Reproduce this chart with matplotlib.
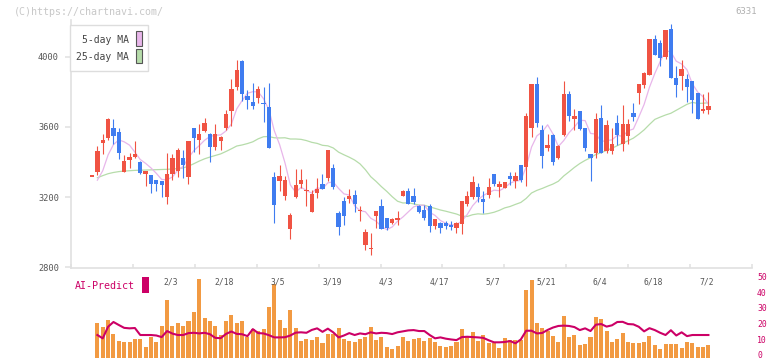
import matplotlib
matplotlib.use("Agg")
import matplotlib.pyplot as plt
import matplotlib.transforms as mtransforms
from matplotlib.patches import Rectangle
import numpy as np

##### Data #####
opens = [3317, 3343, 3509, 3537, 3591, 3571, 3343, 3410, 3427, 3399,
         3330, 3325, 3296, 3290, 3201, 3330, 3349, 3425, 3315, 3596,
         3524, 3577, 3558, 3486, 3520, 3591, 3691, 3828, 3974, 3775,
         3742, 3765, 3737, 3714, 3315, 3292, 3207, 3015, 3201, 3273,
         3233, 3115, 3224, 3277, 3311, 3368, 3110, 3176, 3188, 3211,
         3119, 2926, 2901, 3091, 3148, 3078, 3049, 3068, 3207, 3233,
         3205, 3148, 3125, 3148, 3036, 3053, 3049, 3040, 3026, 3044,
         3158, 3201, 3258, 3188, 3211, 3330, 3258, 3254, 3319, 3292,
         3382, 3372, 3594, 3843, 3585, 3482, 3553, 3423, 3553, 3790,
         3644, 3689, 3594, 3448, 3452, 3653, 3463, 3463, 3620, 3500,
         3549, 3682, 3794, 3841, 3899, 4104, 4081, 3998, 4161, 3881,
         3891, 3876, 3860, 3796, 3689, 3695]
highs = [3317, 3490, 3557, 3650, 3644, 3591, 3439, 3454, 3518, 3404,
         3350, 3325, 3296, 3290, 3452, 3448, 3477, 3467, 3518, 3596,
         3619, 3648, 3568, 3615, 3550, 3699, 3872, 3980, 3980, 3813,
         3853, 3832, 3828, 3853, 3340, 3382, 3319, 3106, 3359, 3359,
         3302, 3239, 3306, 3334, 3467, 3387, 3121, 3201, 3243, 3239,
         3150, 3017, 2996, 3119, 3186, 3078, 3080, 3119, 3240, 3249,
         3252, 3154, 3154, 3158, 3072, 3058, 3062, 3062, 3058, 3180,
         3233, 3319, 3281, 3233, 3309, 3330, 3292, 3283, 3343, 3343,
         3382, 3680, 3847, 3885, 3610, 3558, 3558, 3496, 3862, 3803,
         3705, 3689, 3594, 3448, 3682, 3724, 3638, 3591, 3667, 3724,
         3644, 3739, 3843, 3913, 4104, 4123, 4094, 4151, 4185, 3946,
         3980, 3900, 3860, 3796, 3786, 3800]
lows = [3317, 3325, 3448, 3524, 3505, 3416, 3343, 3363, 3423, 3334,
        3264, 3224, 3235, 3201, 3159, 3296, 3315, 3309, 3277, 3457,
        3448, 3571, 3397, 3471, 3471, 3585, 3604, 3813, 3746, 3705,
        3701, 3737, 3628, 3480, 3049, 3235, 3182, 2960, 3197, 3249,
        3150, 3115, 3197, 3243, 3292, 3245, 2983, 3040, 3167, 3115,
        3064, 2897, 2868, 3021, 3015, 3011, 3045, 3040, 3205, 3163,
        3163, 3110, 3068, 2998, 3015, 2996, 3015, 3011, 2992, 2987,
        3150, 3188, 3172, 3110, 3195, 3262, 3201, 3250, 3268, 3249,
        3287, 3262, 3543, 3600, 3363, 3463, 3382, 3416, 3547, 3632,
        3585, 3585, 3463, 3292, 3423, 3452, 3452, 3443, 3496, 3463,
        3505, 3634, 3728, 3822, 3895, 4009, 3946, 3990, 3879, 3771,
        3813, 3742, 3680, 3644, 3680, 3672]
closes = [3317, 3461, 3524, 3644, 3549, 3454, 3404, 3429, 3444, 3338,
          3347, 3273, 3273, 3269, 3334, 3420, 3467, 3382, 3518, 3537,
          3562, 3623, 3486, 3557, 3541, 3676, 3819, 3923, 3790, 3752,
          3720, 3815, 3728, 3480, 3154, 3319, 3296, 3097, 3268, 3296,
          3233, 3216, 3245, 3243, 3467, 3258, 3030, 3093, 3205, 3163,
          3119, 2998, 2910, 3119, 3015, 3026, 3074, 3078, 3235, 3163,
          3172, 3115, 3081, 3036, 3072, 3026, 3036, 3030, 3049, 3176,
          3207, 3287, 3201, 3172, 3258, 3277, 3273, 3283, 3302, 3319,
          3296, 3661, 3847, 3623, 3435, 3496, 3397, 3490, 3790, 3663,
          3661, 3587, 3480, 3423, 3644, 3452, 3610, 3501, 3553, 3614,
          3614, 3657, 3843, 3910, 4104, 4013, 3995, 4151, 3879, 3838,
          3933, 3828, 3752, 3644, 3701, 3718]

ma5 = [np.nan, 3296, 3350, 3440, 3499, 3526, 3515, 3496, 3456, 3414,
       3392, 3366, 3335, 3300, 3299, 3314, 3353, 3374, 3424, 3465,
       3493, 3524, 3545, 3553, 3554, 3577, 3616, 3703, 3750, 3792,
       3801, 3800, 3761, 3699, 3579, 3499, 3395, 3269, 3227, 3255,
       3238, 3222, 3252, 3247, 3281, 3286, 3249, 3218, 3211, 3150,
       3122, 3116, 3079, 3062, 3032, 3014, 3029, 3062, 3086, 3115,
       3144, 3153, 3153, 3113, 3095, 3066, 3050, 3040, 3043, 3063,
       3100, 3150, 3184, 3209, 3225, 3239, 3236, 3253, 3279, 3291,
       3295, 3372, 3485, 3549, 3572, 3612, 3560, 3488, 3522, 3567,
       3600, 3638, 3636, 3563, 3559, 3517, 3522, 3526, 3552, 3546,
       3578, 3588, 3656, 3728, 3826, 3905, 3973, 4035, 4028, 3975,
       3959, 3926, 3846, 3799, 3772, 3729]
ma25 = [np.nan, 3310, 3322, 3333, 3340, 3345, 3348, 3350, 3352, 3353,
        3354, 3355, 3356, 3357, 3358, 3360, 3362, 3366, 3376, 3390,
        3405, 3418, 3428, 3437, 3446, 3460, 3475, 3491, 3497, 3505,
        3515, 3532, 3544, 3545, 3538, 3537, 3538, 3531, 3531, 3529,
        3522, 3512, 3506, 3495, 3492, 3480, 3456, 3441, 3427, 3411,
        3389, 3356, 3316, 3289, 3259, 3232, 3202, 3176, 3166, 3167,
        3161, 3154, 3153, 3144, 3135, 3126, 3119, 3111, 3103, 3091,
        3089, 3099, 3104, 3102, 3106, 3113, 3124, 3138, 3146, 3158,
        3169, 3192, 3223, 3238, 3249, 3262, 3274, 3290, 3320, 3344,
        3369, 3391, 3409, 3424, 3443, 3453, 3466, 3478, 3493, 3507,
        3521, 3536, 3558, 3583, 3614, 3643, 3656, 3668, 3678, 3695,
        3712, 3729, 3740, 3734, 3735, 3738]

volume = [np.nan, 21.6, 19.5, 23.7, 15.1, 10.7, 10.1, 10.1, 11.8, 11.8,
          6.9, 13.2, 10.1, 20.1, 36.3, 20.1, 21.6, 20.1, 23.1, 28.7,
          49.5, 25.2, 23.1, 20.1, 14.1, 23.1, 26.9, 22.0, 23.1, 13.2,
          18.1, 17.0, 17.9, 31.9, 46.4, 23.7, 18.7, 30.0, 18.4, 10.7,
          11.8, 11.3, 13.2, 9.2, 15.1, 15.1, 18.4, 11.8, 10.7, 10.1,
          11.8, 13.2, 19.5, 11.1, 13.2, 6.5, 5.5, 7.4, 12.8, 10.7,
          11.5, 12.2, 10.3, 12.6, 9.7, 7.4, 6.5, 7.4, 10.1, 17.9,
          12.8, 16.2, 10.5, 14.1, 9.1, 9.1, 6.1, 12.4, 10.9, 11.1,
          11.1, 42.6, 48.9, 22.0, 18.5, 16.8, 13.6, 9.9, 26.2, 13.0,
          14.3, 8.0, 8.6, 13.0, 25.6, 24.3, 17.0, 9.9, 11.8, 15.5,
          9.9, 9.2, 9.2, 10.1, 13.6, 8.0, 5.5, 8.6, 8.6, 8.6,
          6.1, 9.9, 9.2, 6.7, 6.7, 8.0]
ai_predict = [np.nan, 14.3, 12.2, 19.5, 22.5, 20.6, 18.8, 18.5, 18.7, 14.3,
              14.3, 14.3, 14.0, 13.0, 16.8, 15.2, 14.3, 14.3, 15.5, 15.7,
              15.3, 15.7, 14.8, 12.5, 12.3, 15.0, 16.5, 15.0, 14.8, 13.6,
              18.0, 15.5, 15.3, 14.2, 12.8, 12.8, 12.9, 14.0, 15.8, 16.0,
              15.7, 17.5, 18.5, 16.3, 18.3, 16.0, 12.8, 14.0, 15.5, 14.3,
              15.3, 14.8, 16.0, 15.3, 15.7, 15.5, 14.9, 16.0, 16.6, 17.2,
              17.4, 16.8, 16.8, 14.3, 12.2, 12.8, 12.0, 11.5, 11.1, 13.0,
              13.2, 13.0, 12.8, 12.5, 11.0, 9.7, 9.7, 9.9, 10.5, 9.1,
              11.5, 17.0, 17.0, 15.3, 15.6, 17.5, 19.0, 20.0, 20.2, 20.0,
              19.3, 17.4, 18.5, 16.8, 20.8, 21.2, 19.6, 20.4, 22.5, 22.6,
              21.2, 21.0, 19.5, 16.6, 18.6, 17.4, 15.7, 14.3, 17.3, 14.0,
              16.0, 13.6, 14.3, 14.3, 14.3, 14.3]

# date labels sit on every 10th candle starting at index 15
date_labels = ["2/3", "2/18", "3/5", "3/19", "4/3", "4/17",
               "5/7", "5/21", "6/4", "6/18", "7/2"]
date_index = list(range(15, 116, 10))

price_ticks = [2800, 3200, 3600, 4000]
ai_ticks = [0, 10, 20, 30, 40, 50]

##### Style #####
red = "#f05343"
blue = "#3f7cf0"
pink = "#e8b6ea"
green = "#b6dcaa"
orange = "#f29a42"
magenta = "#cc0066"
grid_grey = "#e0e0e0"
mono = "DejaVu Sans Mono"

o = np.array(opens, dtype=float)
h = np.array(highs, dtype=float)
l = np.array(lows, dtype=float)
c = np.array(closes, dtype=float)
idx = np.arange(len(o))

fig = plt.figure(figsize=(7.72, 3.61), dpi=100)
W, H = 772.0, 361.0

##### Candlestick panel #####
ax = fig.add_axes([71 / W, 1 - 268 / H, 681 / W, 248 / H])
xlim = (-3.92, 123.13)
ax.set_xlim(*xlim)
ax.set_ylim(2795, 4210)

up = c >= o
colors = np.where(up, red, blue)
body_low = np.minimum(o, c)
body_h = np.maximum(np.abs(c - o), 6)
ax.vlines(idx, l, h, colors=colors, lw=0.8, zorder=3)
ax.bar(idx, body_h, bottom=body_low, width=0.8, color=colors, lw=0, zorder=4)

ax.plot(idx, ma25, color=green, lw=0.9, zorder=2)
ax.plot(idx, ma5, color=pink, lw=0.9, zorder=2)

for s in ["top", "right"]:
    ax.spines[s].set_visible(False)
for s in ["left", "bottom"]:
    ax.spines[s].set_color(grid_grey)
    ax.spines[s].set_linewidth(1.2)

ax.set_yticks(price_ticks)
ax.set_yticklabels([str(t) for t in price_ticks], family=mono, fontsize=6.2, color="#555555")
ax.tick_params(axis="y", direction="out", length=4.3, width=1.1, color=grid_grey, pad=4.3)
ax.set_xticks(np.linspace(xlim[0], xlim[1], 12))
ax.set_xticklabels([])
ax.tick_params(axis="x", direction="in", length=3, width=1.1, color=grid_grey)

##### Volume / AI-Predict panel #####
ax2 = fig.add_axes([71 / W, 1 - 359 / H, 681 / W, 80.7 / H])
ax2.set_xlim(*xlim)
ax2.set_ylim(-0.8, 50)
ax2.bar(idx, volume, width=0.75, color=orange, lw=0, zorder=2)
ax2.plot(idx, ai_predict, color=magenta, lw=1.5, zorder=3)
for s in ax2.spines.values():
    s.set_visible(False)
ax2.set_xticks([])
ax2.set_yticks([])

# right-hand scale for the AI-Predict line (the 0 label is nudged up to stay inside the canvas)
right_trans = mtransforms.blended_transform_factory(ax2.transAxes, ax2.transData)
for t in ai_ticks:
    ax2.annotate(str(t), xy=(1, t), xycoords=right_trans,
                 xytext=(3.6, 1.8 if t == 0 else 0.8), textcoords="offset points",
                 ha="left", va="center", family=mono, fontsize=5.9, color=magenta,
                 annotation_clip=False)

trans = mtransforms.blended_transform_factory(ax2.transData, ax2.transAxes)
for i, lab in zip(date_index, date_labels):
    ax2.text(i - 0.25, 0.954, lab, transform=trans, ha="center", va="center",
             family=mono, fontsize=5.8, color="#555555")

fig.text(75 / W, 1 - 286 / H, "AI-Predict", family=mono, fontsize=7.2,
         color=magenta, ha="left", va="center")
fig.patches.append(Rectangle((142 / W, 1 - 293 / H), 7 / W, 16 / H,
                             transform=fig.transFigure, facecolor=magenta, lw=0))

##### Legend box #####
fig.patches.append(Rectangle((70 / W, 1 - 71 / H), 78 / W, 46 / H, transform=fig.transFigure,
                             facecolor="white", edgecolor="#dddddd", lw=1.0, zorder=5))
fig.patches.append(Rectangle((136 / W, 1 - 46 / H), 6 / W, 15 / H, transform=fig.transFigure,
                             facecolor=pink, edgecolor="#555555", lw=0.8, zorder=6))
fig.patches.append(Rectangle((136 / W, 1 - 63 / H), 6 / W, 14 / H, transform=fig.transFigure,
                             facecolor=green, edgecolor="#555555", lw=0.8, zorder=6))
fig.text(129 / W, 1 - 40 / H, "5-day MA", family=mono, fontsize=7, color="#444444",
         ha="right", va="center", zorder=7)
fig.text(129 / W, 1 - 57 / H, "25-day MA", family=mono, fontsize=7, color="#444444",
         ha="right", va="center", zorder=7)

##### Header texts #####
fig.text(14 / W, 1 - 12 / H, "(C)https://chartnavi.com/", family=mono, fontsize=7.2,
         color="#c8c8c8", ha="left", va="center")
fig.text(757 / W, 1 - 12 / H, "6331", family=mono, fontsize=6.5,
         color="#b0b0b0", ha="right", va="center")

fig.savefig("out.png", dpi=100)
plt.close(fig)
